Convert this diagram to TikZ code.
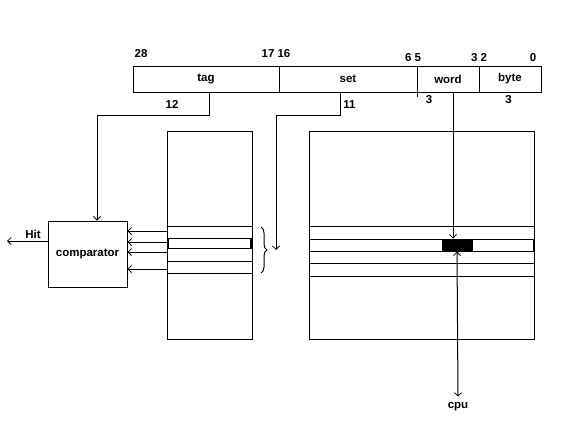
\documentclass[tikz,border=0pt]{standalone}
\usepackage{fontspec}
\setmainfont{Liberation Sans}
\usetikzlibrary{arrows.meta,decorations.pathreplacing}
\begin{document}
\begin{tikzpicture}[x=1pt,y=-1pt,line width=1pt,
  lbl/.style={font=\fontsize{11.5}{12}\selectfont\bfseries,inner sep=0pt},
  field/.style={draw,minimum height=26pt,inner sep=0pt,font=\fontsize{11.5}{12}\selectfont\bfseries},
  box/.style={draw,inner sep=0pt},
  arr/.style={-{Straight Barb[length=3.5pt,width=7pt,line width=0.8pt]}},
  barr/.style={{Straight Barb[length=3.5pt,width=7pt,line width=0.8pt]}-{Straight Barb[length=3.5pt,width=7pt,line width=0.8pt]}}]
\useasboundingbox (0,0) rectangle (567,420);
% address fields
\node[field,minimum width=146pt] (tag)  at (206,79) {tag};
\node[field,minimum width=138pt] (set)  at (348,79) {set};
\node[field,minimum width=62pt]  (word) at (448,79) {word};
\node[field,minimum width=62pt]  (byte) at (510,79) {byte};
\draw (set.south east) -- ++(0,4);
% bit labels
\node[lbl] (b28) at (141,53.5) {28};
\node[lbl] (b17) at (276,53.5) {17 16};
\node[lbl] (b6)  at (413,57.5) {6 5};
\node[lbl] (b3)  at (479,57.5) {3 2};
\node[lbl] (b0)  at (533,57.5) {0};
\node[lbl] (w12) at (172,104.5) {12};
\node[lbl] (w11) at (349.5,104.5) {11};
\node[lbl] (w3a) at (429,100) {3};
\node[lbl] (w3b) at (508.5,100) {3};
% comparator
\node[box,minimum width=79pt,minimum height=66pt,font=\fontsize{11.5}{12}\selectfont\bfseries] (cmp) at (87.5,254) {comparator};
% tag array
\node[box,minimum width=85pt,minimum height=208pt] (tarr) at (209.5,235) {};
\foreach \yy in {226,238,248,261,273} \draw (tarr.west |- 0,\yy) -- (tarr.east |- 0,\yy);
\draw (168,238) rectangle (250.5,248);
\draw[line width=2pt] (250.5,238) -- (250.5,248);
% data array
\node[box,minimum width=225pt,minimum height=208pt] (darr) at (421.5,235) {};
\foreach \yy in {226,239,251,263,276} \draw (darr.west |- 0,\yy) -- (darr.east |- 0,\yy);
\draw[line width=2pt] (533.5,239) -- (533.5,251);
\draw[line width=1.6pt] (309.3,226) -- (309.3,263);
\node[draw,fill=black,minimum width=30pt,minimum height=12pt,inner sep=0pt] (blk) at (457,245) {};
% brace
\draw[decorate,decoration={brace,amplitude=6pt}] (261,227) -- (261,273);
\coordinate (bt) at (276,250);
% connectors
\draw[arr] ([xshift=3pt]tag.south) |- (97,115) -- ([xshift=9.5pt]cmp.north);
\draw[arr] ([xshift=-8pt]set.south) |- (276,115) -- (bt);
\foreach \yy in {231,242,252,269} \draw[arr] (tarr.west |- 0,\yy) -- (cmp.east |- 0,\yy);
\coordinate (hitend) at (7,241);
\draw[arr] (cmp.west |- hitend) -- (hitend);
\node[lbl] (hit) at (33,234) {Hit};
\draw[arr] ([xshift=5pt]word.south) -- ([xshift=-4pt]blk.north);
\node[lbl] (cpu) at (458,406.5) {cpu};
\draw[barr] (blk.south) -- ([yshift=5pt]cpu.north);
\end{tikzpicture}
\end{document}
